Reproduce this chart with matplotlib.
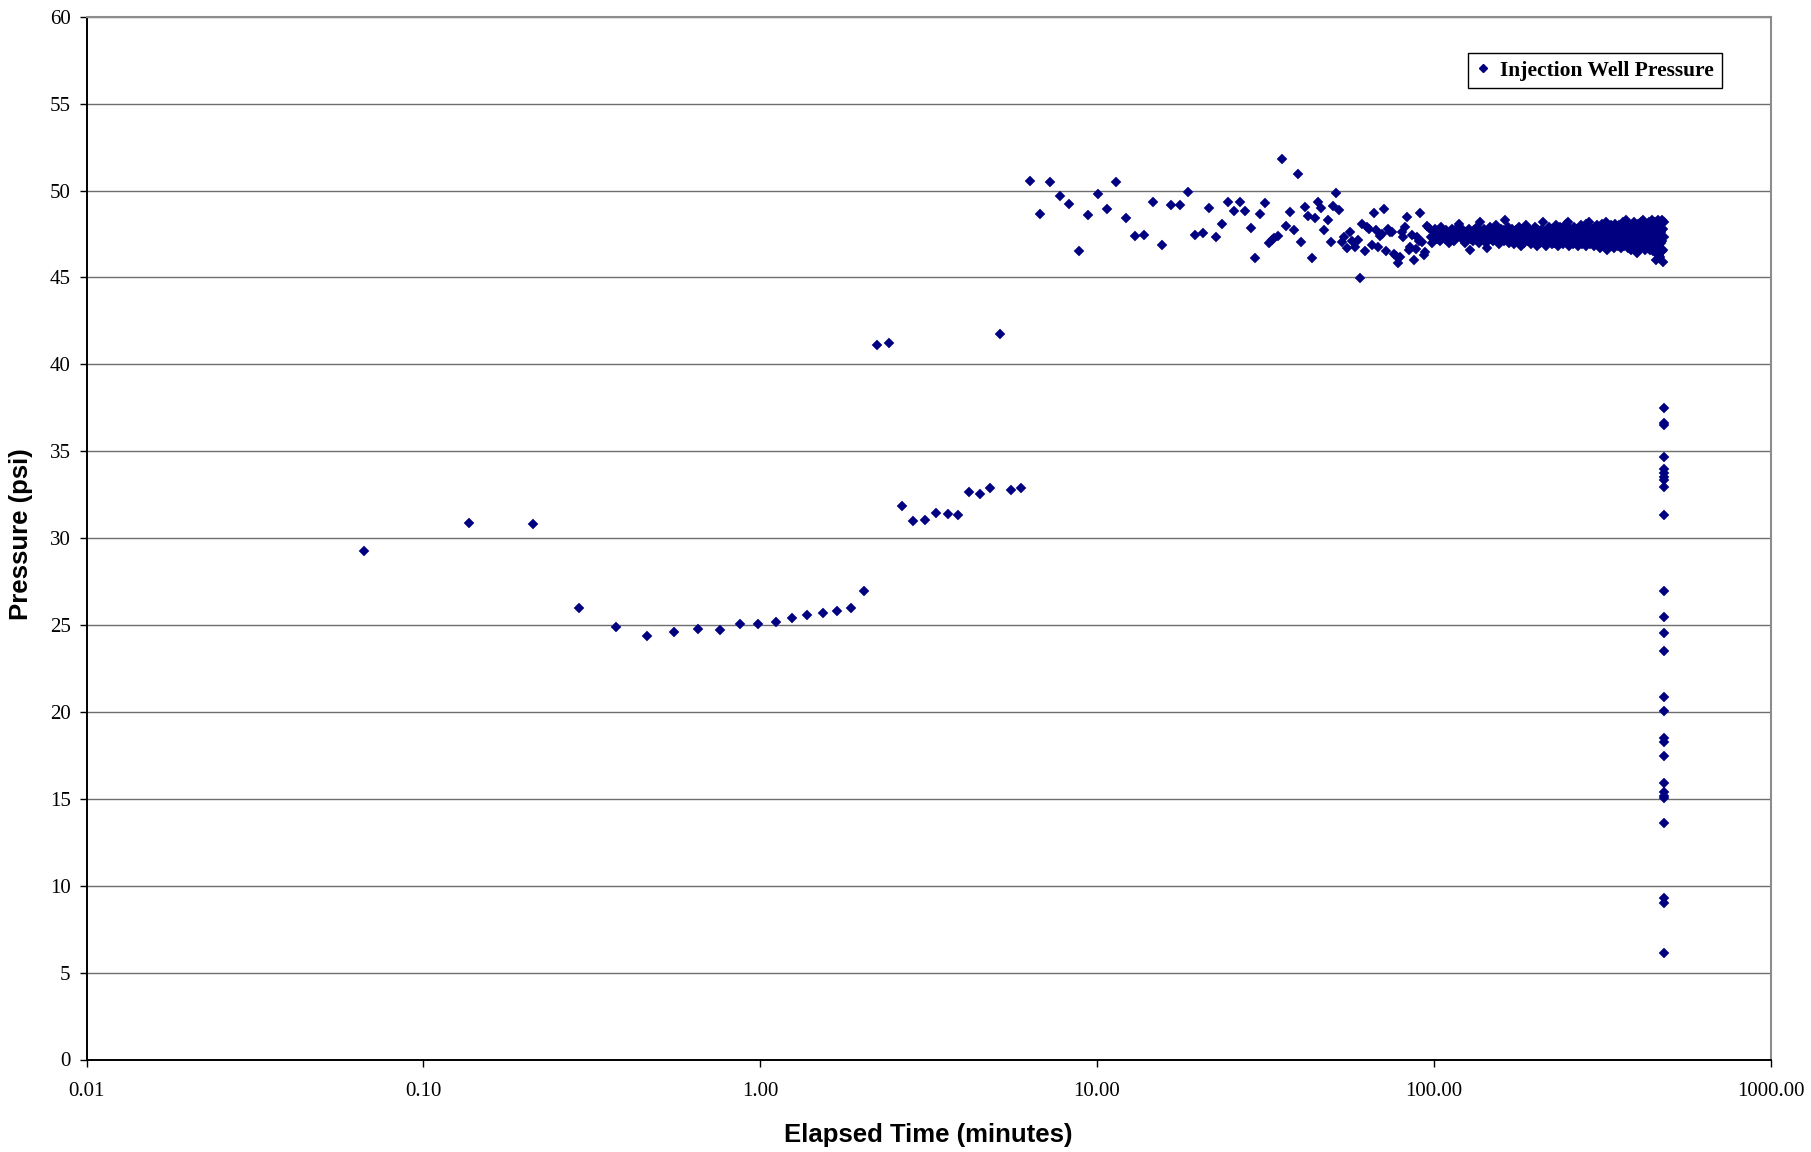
import matplotlib
matplotlib.use("Agg")
import matplotlib.pyplot as plt
from matplotlib.ticker import FixedLocator, FixedFormatter, NullLocator
from matplotlib.lines import Line2D

# ---------------- data ----------------
early_t = [0.0664, 0.1366, 0.211, 0.290, 0.373, 0.461, 0.555, 0.653, 0.758, 0.871,
           0.987, 1.111, 1.243, 1.380, 1.532, 1.688, 1.855, 2.028, 2.219, 2.419,
           2.63, 2.844, 3.085, 3.328, 3.601, 3.873, 4.169, 4.485, 4.827, 5.167,
           5.544, 5.935]
early_p = [29.25, 30.87, 30.81, 25.98, 24.88, 24.36, 24.58, 24.79, 24.73, 25.04,
           25.04, 25.15, 25.39, 25.60, 25.68, 25.79, 25.98, 26.95, 41.11, 41.25,
           31.87, 30.98, 31.02, 31.44, 31.40, 31.35, 32.63, 32.56, 32.88, 41.72,
           32.79, 32.90]

mid_t = [6.34, 6.79, 7.27, 7.75, 8.28, 8.83, 9.43, 10.06, 10.72, 11.42,
         12.18, 12.95, 13.77, 14.68, 15.61, 16.60, 17.62, 18.61, 19.60, 20.62,
         21.57, 22.57, 23.57, 24.56, 25.53, 26.55, 27.58, 28.62, 29.54, 30.56,
         31.49, 32.43, 33.04, 33.63, 34.56, 35.52, 36.51, 37.53, 38.49, 39.47,
         40.45, 41.50, 42.44, 43.44, 44.52, 45.45, 46.39, 47.35, 48.45, 49.46,
         50.35, 51.40, 52.36, 53.33, 54.28, 55.28, 56.30, 57.32, 58.39, 59.47,
         60.42, 61.38, 62.37, 63.38, 64.39, 65.46, 66.48, 67.41, 68.33, 69.28,
         70.38, 71.35, 72.33, 73.33, 74.32, 75.36, 76.38, 77.27, 78.16, 79.25,
         80.35, 81.25, 82.19, 83.14, 84.31, 85.22, 86.39, 87.40, 88.41, 89.38,
         90.43, 91.26, 92.32, 93.4, 94.4, 95.5, 96.6]
mid_p = [50.52, 48.62, 50.47, 49.67, 49.21, 46.51, 48.60, 49.77, 48.91, 50.50,
         48.41, 47.40, 47.46, 49.32, 46.86, 49.15, 49.17, 49.94, 47.42, 47.56,
         49.01, 47.33, 48.10, 49.36, 48.82, 49.32, 48.80, 47.83, 46.09, 48.66,
         49.28, 47.00, 47.17, 47.29, 47.38, 51.82, 47.98, 48.78, 47.75, 50.95,
         47.02, 49.05, 48.55, 46.09, 48.43, 49.34, 48.97, 47.73, 48.29, 47.03,
         49.13, 49.83, 48.86, 47.05, 47.31, 46.72, 47.64, 47.11, 46.76, 47.15,
         44.98, 48.08, 46.53, 47.89, 47.77, 46.88, 48.72, 47.73, 46.74, 47.36,
         47.50, 48.91, 46.53, 47.81, 47.64, 47.60, 46.34, 46.24, 45.81, 46.16,
         47.62, 47.31, 47.91, 48.49, 46.59, 46.74, 47.46, 46.01, 46.65, 47.31,
         47.09, 48.70, 47.02, 46.30, 46.45, 47.95, 47.85]

band_t = [98, 99, 100, 101, 102, 103, 104, 105, 106, 107,
          108, 109, 110, 111, 112, 113, 114, 115, 116, 117,
          118, 119, 120, 121, 122, 123, 124, 125, 126, 127,
          128, 129, 130, 131, 132, 133, 134, 135, 136, 137,
          138, 139, 140, 141, 142, 143, 144, 145, 146, 147,
          148, 149, 150, 151, 152, 153, 154, 155, 156, 157,
          158, 159, 160, 161, 162, 163, 164, 165, 166, 167,
          168, 169, 170, 171, 172, 173, 174, 175, 176, 177,
          178, 179, 180, 181, 182, 183, 184, 185, 186, 187,
          188, 189, 190, 191, 192, 193, 194, 195, 196, 197,
          198, 199, 200, 201, 202, 203, 204, 205, 206, 207,
          208, 209, 210, 211, 212, 213, 214, 215, 216, 217,
          218, 219, 220, 221, 222, 223, 224, 225, 226, 227,
          228, 229, 230, 231, 232, 233, 234, 235, 236, 237,
          238, 239, 240, 241, 242, 243, 244, 245, 246, 247,
          248, 249, 250, 251, 252, 253, 254, 255, 256, 257,
          258, 259, 260, 261, 262, 263, 264, 265, 266, 267,
          268, 269, 270, 271, 272, 273, 274, 275, 276, 277,
          278, 279, 280, 281, 282, 283, 284, 285, 286, 287,
          288, 289, 290, 291, 292, 293, 294, 295, 296, 297,
          298, 299, 300, 301, 302, 303, 304, 305, 306, 307,
          308, 309, 310, 311, 312, 313, 314, 315, 316, 317,
          318, 319, 320, 321, 322, 323, 324, 325, 326, 327,
          328, 329, 330, 331, 332, 333, 334, 335, 336, 337,
          338, 339, 340, 341, 342, 343, 344, 345, 346, 347,
          348, 349, 350, 351, 352, 353, 354, 355, 356, 357,
          358, 359, 360, 361, 362, 363, 364, 365, 366, 367,
          368, 369, 370, 371, 372, 373, 374, 375, 376, 377,
          378, 379, 380, 381, 382, 383, 384, 385, 386, 387,
          388, 389, 390, 391, 392, 393, 394, 395, 396, 397,
          398, 399, 400, 401, 402, 403, 404, 405, 406, 407,
          408, 409, 410, 411, 412, 413, 414, 415, 416, 417,
          418, 419, 420, 421, 422, 423, 424, 425, 426, 427,
          428, 429, 430, 431, 432, 433, 434, 435, 436, 437,
          438, 439, 440, 441, 442, 443, 444, 445, 446, 447,
          448, 449, 450, 451, 452, 453, 454, 455, 456, 457,
          458, 459, 460, 461, 462, 463, 464, 465, 466, 467,
          468, 469, 470, 471, 472, 473, 474, 475, 476, 477,
          478, 479, 480, 481, 482]
band_p = [47.3, 47.0, 47.6, 47.8, 47.2, 47.5, 47.1, 47.9, 47.4, 47.6,
          47.2, 47.7, 47.3, 47.0, 47.5, 47.8, 47.4, 47.1, 47.6, 47.3,
          47.9, 48.1, 47.5, 47.2, 47.7, 47.4, 47.0, 47.6, 47.3, 47.8,
          46.6, 47.2, 47.5, 47.1, 47.7, 47.4, 47.9, 47.3, 47.0, 48.2,
          47.6, 47.2, 47.5, 47.8, 47.3, 47.0, 46.7, 47.6, 47.4, 47.9,
          47.2, 47.5, 47.1, 47.7, 47.4, 48.0, 47.3, 47.6, 46.9, 47.5,
          47.8, 47.2, 47.4, 47.7, 47.1, 48.3, 47.5, 47.3, 47.9, 47.0,
          47.6, 47.4, 47.2, 47.8, 47.5, 46.9, 47.3, 47.7, 47.1, 47.6,
          47.4, 47.9, 47.2, 47.5, 46.8, 47.7, 47.3, 47.0, 47.6, 47.4,
          48.0, 47.2, 47.5, 47.1, 47.8, 47.4, 46.9, 47.6, 47.3, 47.7,
          47.1, 47.5, 47.9, 47.2, 47.4, 46.8, 47.7, 47.3, 47.6, 47.0,
          47.5, 47.8, 47.2, 48.2, 47.4, 47.0, 47.6, 47.3, 46.8, 47.7,
          47.4, 47.1, 47.9, 47.5, 47.2, 47.6, 46.9, 47.8, 47.3, 47.5,
          47.0, 47.7, 47.4, 48.0, 47.2, 47.6, 46.8, 47.5, 47.3, 47.9,
          47.1, 47.6, 47.4, 47.8, 46.9, 47.3, 47.7, 47.2, 47.5, 48.1,
          47.0, 47.4, 48.2, 47.6, 46.8, 47.3, 47.8, 47.1, 47.5, 47.2,
          47.7, 46.9, 47.4, 47.9, 47.2, 47.6, 47.0, 47.5, 47.3, 47.8,
          46.8, 47.4, 47.7, 47.1, 47.5, 48.0, 47.2, 47.6, 46.9, 47.4,
          47.8, 47.3, 47.0, 47.6, 47.4, 48.1, 46.8, 47.5, 47.2, 47.7,
          48.2, 47.1, 47.4, 46.9, 47.6, 47.3, 47.8, 47.0, 47.5, 47.2,
          47.7, 46.8, 47.4, 47.9, 47.1, 47.5, 47.3, 48.0, 46.9, 47.6,
          47.2, 47.8, 47.0, 47.4, 46.7, 47.6, 47.3, 48.1, 47.1, 47.5,
          47.9, 47.2, 46.8, 47.6, 47.4, 47.0, 47.7, 48.2, 47.3, 46.6,
          47.5, 47.1, 47.8, 47.4, 46.9, 47.6, 47.2, 48.0, 47.3, 46.8,
          47.7, 47.4, 47.0, 47.9, 47.2, 46.7, 47.6, 47.3, 48.1, 47.5,
          46.9, 47.4, 47.8, 47.1, 47.6, 46.8, 47.3, 48.0, 47.5, 47.0,
          47.7, 47.2, 46.7, 47.9, 47.4, 47.0, 48.2, 47.5, 46.8, 47.3,
          47.8, 47.1, 47.6, 48.3, 46.9, 47.4, 47.2, 47.9, 46.7, 47.5,
          47.0, 47.7, 48.1, 47.3, 46.8, 47.6, 47.2, 47.9, 46.6, 47.4,
          47.8, 47.1, 46.9, 47.6, 48.2, 47.3, 47.0, 47.7, 46.7, 47.5,
          48.0, 47.2, 46.4, 47.8, 47.4, 46.9, 48.1, 47.3, 47.6, 46.8,
          47.5, 47.9, 47.1, 46.7, 48.2, 47.4, 47.0, 47.7, 46.9, 47.6,
          48.3, 47.2, 46.8, 47.8, 47.4, 46.6, 48.0, 47.3, 47.7, 46.9,
          47.5, 48.1, 47.1, 46.7, 47.9, 47.4, 46.8, 48.2, 47.2, 47.6,
          46.6, 47.8, 48.0, 47.3, 46.9, 47.6, 48.3, 47.1, 46.7, 47.5,
          47.9, 46.5, 47.4, 48.1, 47.0, 46.8, 47.7, 48.2, 46.4, 47.3,
          46.0, 47.8, 48.0, 46.6, 47.2, 48.3, 46.9, 47.5, 46.3, 47.9,
          48.1, 46.7, 47.4, 46.2, 48.2, 47.0, 47.6, 46.5, 48.3, 47.1,
          45.9, 47.8, 46.6, 48.2, 47.3]

end_t = [483] * 27
end_p = [37.47, 36.65, 36.48, 34.67, 34.0, 33.72, 33.5, 33.35, 32.95, 31.34,
         26.98, 25.46, 24.56, 23.52, 20.88, 20.07, 18.48, 18.28, 17.49, 15.90,
         15.40, 15.18, 15.04, 13.63, 9.30, 8.99, 6.12]

x_ticks = [0.01, 0.1, 1, 10, 100, 1000]
x_tick_labels = ["0.01", "0.10", "1.00", "10.00", "100.00", "1000.00"]
y_ticks = [0, 5, 10, 15, 20, 25, 30, 35, 40, 45, 50, 55, 60]

series_name = "Injection Well Pressure"
x_label = "Elapsed Time (minutes)"
y_label = "Pressure (psi)"

# ---------------- plot ----------------
W, H = 1811, 1152
fig = plt.figure(figsize=(W / 100, H / 100), dpi=100)
left, right, top, bottom = 86.6, 1770.6, 16.7, 1059.5
ax = fig.add_axes([left / W, 1 - bottom / H, (right - left) / W, (bottom - top) / H])

t_all = early_t + mid_t + band_t + end_t
p_all = early_p + mid_p + band_p + end_p
navy = "#000080"
ax.plot(t_all, p_all, linestyle="none", marker="D", markersize=5.2,
        markerfacecolor=navy, markeredgecolor=navy, markeredgewidth=0.3,
        zorder=3, clip_on=False)

ax.set_xscale("log")
ax.set_xlim(0.01, 1000)
ax.set_ylim(0, 60)

ax.xaxis.set_major_locator(FixedLocator(x_ticks))
ax.xaxis.set_major_formatter(FixedFormatter(x_tick_labels))
ax.xaxis.set_minor_locator(NullLocator())
ax.yaxis.set_major_locator(FixedLocator(y_ticks))
ax.yaxis.set_minor_locator(NullLocator())

ax.grid(True, axis="y", color="#6e6e6e", linewidth=1.0, zorder=1)
ax.set_axisbelow(True)

for s in ["top", "right"]:
    ax.spines[s].set_color("#8c8c8c")
    ax.spines[s].set_linewidth(1.5)
for s in ["left", "bottom"]:
    ax.spines[s].set_color("black")
    ax.spines[s].set_linewidth(1.4)

ax.tick_params(axis="both", which="major", direction="out", length=5,
               width=1.0, color="black")
ax.tick_params(axis="x", pad=11.5)
ax.tick_params(axis="y", pad=6.5)
for lab in ax.get_xticklabels() + ax.get_yticklabels():
    lab.set_fontfamily("Liberation Serif")
    lab.set_fontsize(15)

ax.set_xlabel(x_label, fontfamily="Liberation Sans", fontweight="bold",
              fontsize=18.5, va="center")
ax.set_ylabel(y_label, fontfamily="Liberation Sans", fontweight="bold",
              fontsize=18.5, va="center")
ax.xaxis.set_label_coords(0.5, -0.0724)
ax.yaxis.set_label_coords(-0.0391, 0.504)

handle = Line2D([], [], linestyle="none", marker="D", markersize=4.5,
                markerfacecolor=navy, markeredgecolor=navy)
leg = ax.legend([handle], [series_name], loc="upper right",
                bbox_to_anchor=(0.971, 0.965), borderaxespad=0,
                prop={"family": "Liberation Serif", "weight": "bold", "size": 15.5},
                frameon=True, fancybox=False, shadow=False, framealpha=1,
                edgecolor="black", handlelength=0.7, handletextpad=0.45,
                borderpad=0.35)
leg.get_frame().set_linewidth(1.0)

fig.savefig("out.png", dpi=100)
